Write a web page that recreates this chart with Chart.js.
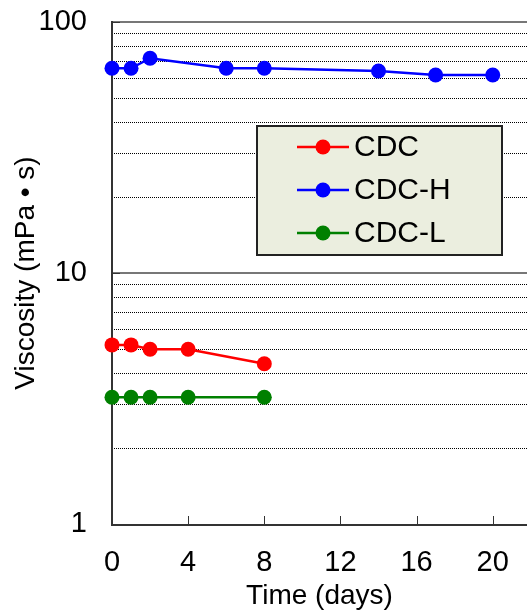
<!DOCTYPE html>
<html>
<head>
<meta charset="utf-8">
<script src="https://cdn.jsdelivr.net/npm/chart.js@4"></script>
<style>
    html, body { margin: 0; padding: 0; background: #fff; }
    #wrap { width: 527px; height: 613px; position: relative; }
</style>
</head>
<body>
<div id="wrap"><canvas id="chart" width="527" height="613"></canvas></div>
<script>
// --- Data ---
const seriesNames = ['CDC', 'CDC-H', 'CDC-L'];
const seriesColors = ['#ff0000', '#0000ff', '#008000'];

const cdcDays = [0, 1, 2, 4, 8];
const cdcViscosity = [5.17, 5.17, 4.97, 4.97, 4.35];

const cdcHDays = [0, 1, 2, 6, 8, 14, 17, 20];
const cdcHViscosity = [65.4, 65.4, 71.7, 65.4, 65.4, 63.8, 61.5, 61.5];

const cdcLDays = [0, 1, 2, 4, 8];
const cdcLViscosity = [3.2, 3.2, 3.2, 3.2, 3.2];

const xTicks = [0, 4, 8, 12, 16, 20];
const yMajorTicks = [1, 10, 100];

const FONT = 'Liberation Sans, Arial, sans-serif';

function toPoints(xs, ys) {
    return xs.map((x, i) => ({ x: x, y: ys[i] }));
}

function makeDataset(i, xs, ys) {
    return {
        label: seriesNames[i],
        data: toPoints(xs, ys),
        borderColor: seriesColors[i],
        backgroundColor: seriesColors[i],
        borderWidth: 2.5,
        pointRadius: 7.5,
        pointHoverRadius: 7.5,
        pointBorderWidth: 0,
        clip: false
    };
}

// --- Grid + ticks drawn from the scales ---
const gridPlugin = {
    id: 'gridPlugin',
    beforeDatasetsDraw(chart) {
        const { ctx, chartArea, scales } = chart;
        const y = scales.y, x = scales.x;
        ctx.save();
        // minor dotted lines
        for (let d = 1; d < 100; d *= 10) {
            for (let m = 2; m <= 9; m++) {
                const py = Math.round(y.getPixelForValue(d * m)) + 0.5;
                ctx.beginPath();
                ctx.setLineDash([1, 1]);
                ctx.strokeStyle = '#000';
                ctx.lineWidth = 1;
                ctx.moveTo(chartArea.left, py);
                ctx.lineTo(chartArea.right, py);
                ctx.stroke();
            }
        }
        // major solid lines (10, 100)
        ctx.setLineDash([]);
        [10, 100].forEach(v => {
            const py = Math.round(y.getPixelForValue(v));
            ctx.beginPath();
            ctx.strokeStyle = '#777';
            ctx.lineWidth = 2;
            ctx.moveTo(chartArea.left, py);
            ctx.lineTo(chartArea.right, py);
            ctx.stroke();
        });
        // axis lines
        ctx.strokeStyle = '#333';
        ctx.lineWidth = 2;
        ctx.beginPath();
        ctx.moveTo(chartArea.left, chartArea.top - 1);
        ctx.lineTo(chartArea.left, chartArea.bottom + 1);
        ctx.lineTo(chartArea.right, chartArea.bottom + 1);
        ctx.stroke();
        // inward tick marks
        ctx.lineWidth = 1;
        xTicks.forEach(v => {
            const px = Math.round(x.getPixelForValue(v)) + 0.5;
            ctx.beginPath();
            ctx.moveTo(px, chartArea.bottom);
            ctx.lineTo(px, chartArea.bottom - 8);
            ctx.stroke();
        });
        yMajorTicks.forEach(v => {
            const py = Math.round(y.getPixelForValue(v)) + 0.5;
            ctx.beginPath();
            ctx.moveTo(chartArea.left, py);
            ctx.lineTo(chartArea.left + 8, py);
            ctx.stroke();
        });
        ctx.restore();
    }
};

// --- Legend box inside the plot ---
const legendBox = { left: 257, top: 126, width: 245, height: 129 };
const legendPlugin = {
    id: 'legendBoxPlugin',
    afterDraw(chart) {
        const { ctx } = chart;
        ctx.save();
        ctx.fillStyle = '#ebeedf';
        ctx.fillRect(legendBox.left, legendBox.top, legendBox.width, legendBox.height);
        ctx.strokeStyle = '#222';
        ctx.lineWidth = 2;
        ctx.strokeRect(legendBox.left, legendBox.top, legendBox.width, legendBox.height);
        chart.data.datasets.forEach((ds, i) => {
            const cy = legendBox.top + 21 + i * 43;
            ctx.strokeStyle = ds.borderColor;
            ctx.lineWidth = 2.5;
            ctx.beginPath();
            ctx.moveTo(legendBox.left + 40, cy);
            ctx.lineTo(legendBox.left + 92, cy);
            ctx.stroke();
            ctx.fillStyle = ds.backgroundColor;
            ctx.beginPath();
            ctx.arc(legendBox.left + 66, cy, 7.5, 0, Math.PI * 2);
            ctx.fill();
            ctx.fillStyle = '#000';
            ctx.font = '30px ' + FONT;
            ctx.textBaseline = 'middle';
            ctx.fillText(ds.label, legendBox.left + 97, cy + 1);
        });
        ctx.restore();
    }
};

new Chart(document.getElementById('chart'), {
    type: 'line',
    data: {
        datasets: [
            makeDataset(0, cdcDays, cdcViscosity),
            makeDataset(1, cdcHDays, cdcHViscosity),
            makeDataset(2, cdcLDays, cdcLViscosity)
        ]
    },
    options: {
        responsive: false,
        animation: false,
        layout: { autoPadding: false, padding: { top: 22, right: 0, left: 0, bottom: 0 } },
        plugins: { legend: { display: false }, tooltip: { enabled: false } },
        scales: {
            x: {
                type: 'linear',
                min: 0,
                max: 21.8,
                afterBuildTicks: scale => { scale.ticks = xTicks.map(v => ({ value: v })); },
                afterFit: scale => { scale.height = 89; scale.paddingRight = 0; scale.paddingLeft = 0; },
                grid: { display: false },
                border: { display: false },
                ticks: { color: '#000', font: { family: FONT, size: 29 }, padding: 14, maxRotation: 0 },
                title: { display: true, text: 'Time (days)', color: '#000', font: { family: FONT, size: 28 }, padding: { top: 0, bottom: 0 } }
            },
            y: {
                type: 'logarithmic',
                min: 1,
                max: 100,
                afterBuildTicks: scale => { scale.ticks = yMajorTicks.map(v => ({ value: v })); },
                afterFit: scale => { scale.width = 112; scale.paddingTop = 0; scale.paddingBottom = 0; },
                grid: { display: false },
                border: { display: false },
                ticks: { color: '#000', font: { family: FONT, size: 29 }, padding: 17, callback: v => String(v) },
                title: { display: true, text: 'Viscosity (mPa • s)', color: '#000', font: { family: FONT, size: 28 }, padding: { top: 9, bottom: 0 } }
            }
        }
    },
    plugins: [gridPlugin, legendPlugin]
});
</script>
</body>
</html>
